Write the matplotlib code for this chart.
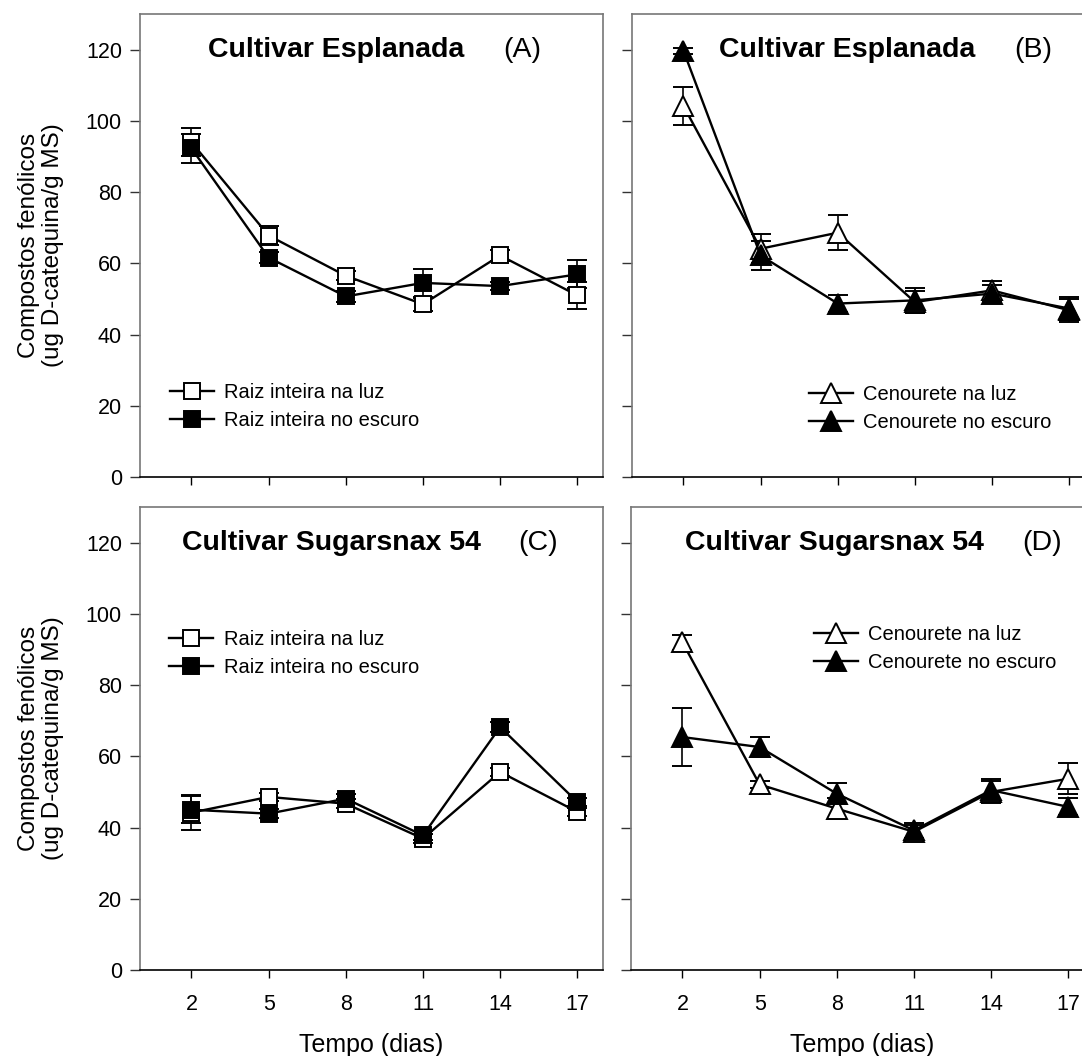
import numpy as np
import matplotlib.pyplot as plt

plt.rcParams['font.family'] = ['Liberation Sans', 'DejaVu Sans']

# Dados (média e erro-padrão)
dias = [2, 5, 8, 11, 14, 17]

# (A) Esplanada - raiz inteira
a_luz = [94.0, 67.8, 56.5, 48.5, 62.2, 51.0]
a_luz_ep = [3.9, 2.8, 1.2, 1.8, 1.5, 3.7]
a_esc = [92.3, 61.6, 50.7, 54.5, 53.6, 56.9]
a_esc_ep = [4.0, 1.5, 1.5, 4.0, 1.2, 3.9]

# (B) Esplanada - cenourete
b_luz = [104.2, 64.1, 68.6, 49.1, 52.4, 46.8]
b_luz_ep = [5.3, 4.0, 5.0, 3.0, 2.5, 3.3]
b_esc = [119.7, 62.2, 48.7, 49.6, 51.5, 47.3]
b_esc_ep = [0.8, 4.0, 2.5, 3.6, 2.5, 3.3]

# (C) Sugarsnax 54 - raiz inteira
c_luz = [44.2, 48.6, 46.7, 36.9, 55.6, 44.4]
c_luz_ep = [4.8, 1.2, 1.2, 1.2, 1.2, 1.2]
c_esc = [45.0, 43.9, 48.1, 37.8, 68.2, 47.2]
c_esc_ep = [3.8, 1.2, 1.2, 1.2, 1.5, 1.2]

# (D) Sugarsnax 54 - cenourete
d_luz = [92.0, 52.1, 45.3, 38.8, 50.0, 53.7]
d_luz_ep = [2.2, 1.0, 3.0, 2.0, 3.0, 4.4]
d_esc = [65.4, 62.6, 49.5, 39.2, 50.5, 45.8]
d_esc_ep = [8.2, 2.9, 3.0, 2.0, 3.0, 2.4]

leg_raiz = ['Raiz inteira na luz', 'Raiz inteira no escuro']
leg_cen = ['Cenourete na luz', 'Cenourete no escuro']
yticks = [0, 20, 40, 60, 80, 100, 120]

W, H = 1082, 1056
fig = plt.figure(figsize=(W / 100, H / 100), dpi=100)


def painel(rect, luz, luz_ep, esc, esc_ep, marcador, ms, nomes, titulo, tx,
           letra, lx, leg_pos, ylab=True, xlab=True):
    x0, y0 = rect
    ax = fig.add_axes([x0 / W, 1 - y0 / H, 463 / W, 463 / H])
    linhas = []
    for y, ep, cor in [(luz, luz_ep, 'white'), (esc, esc_ep, 'black')]:
        c = ax.errorbar(dias, y, yerr=ep, color='black', lw=1.7,
                        marker=marcador, ms=ms, mfc=cor, mec='black', mew=1.4,
                        capsize=7, elinewidth=1.2, capthick=1.2)
        linhas.append(c[0])
    ax.set_xlim(0, 18)
    ax.set_ylim(0, 130)
    ax.set_xticks(dias)
    ax.set_yticks(yticks)
    ax.tick_params(axis='y', direction='out', length=7, width=1, pad=6,
                   labelsize=15.5, color='#333333')
    ax.tick_params(axis='x', direction='out', length=6, width=1, pad=11,
                   labelsize=15.5)
    for s in ['left', 'top', 'right']:
        ax.spines[s].set_color('#777777')
        ax.spines[s].set_linewidth(1.2)
    ax.spines['bottom'].set_color('black')
    ax.spines['bottom'].set_linewidth(1.2)
    if ylab:
        ax.set_ylabel('Compostos fenólicos\n(ug D-catequina/g MS)',
                      fontsize=17.5, labelpad=16, linespacing=1.1)
    else:
        ax.set_yticklabels([])
    if xlab:
        ax.set_xlabel('Tempo (dias)', fontsize=18, labelpad=13)
    else:
        ax.set_xticklabels([])
    ax.text(tx, 120, titulo, fontsize=20.5, fontweight='bold',
            ha='left', va='center')
    ax.text(lx, 120, letra, fontsize=20.5, ha='center', va='center')
    ax.legend(linhas, nomes, loc='center left', bbox_to_anchor=leg_pos,
              frameon=False, fontsize=14.5, handlelength=2.2,
              handletextpad=0.5, labelspacing=0.45, borderpad=0,
              borderaxespad=0)
    return ax


painel((140, 477), a_luz, a_luz_ep, a_esc, a_esc_ep, 's', 12, leg_raiz,
       'Cultivar Esplanada', 2.64, '(A)', 14.85, (0.065, 0.152), True, False)
painel((632, 477), b_luz, b_luz_ep, b_esc, b_esc_ep, '^', 14, leg_cen,
       'Cultivar Esplanada', 3.38, '(B)', 15.58, (0.382, 0.148), False, False)
painel((140, 970), c_luz, c_luz_ep, c_esc, c_esc_ep, 's', 12, leg_raiz,
       'Cultivar Sugarsnax 54', 1.63, '(C)', 15.47, (0.063, 0.683), True, True)
painel((631, 970), d_luz, d_luz_ep, d_esc, d_esc_ep, '^', 14, leg_cen,
       'Cultivar Sugarsnax 54', 2.1, '(D)', 16.0, (0.395, 0.694), False, True)

fig.savefig('out.png', dpi=100)
